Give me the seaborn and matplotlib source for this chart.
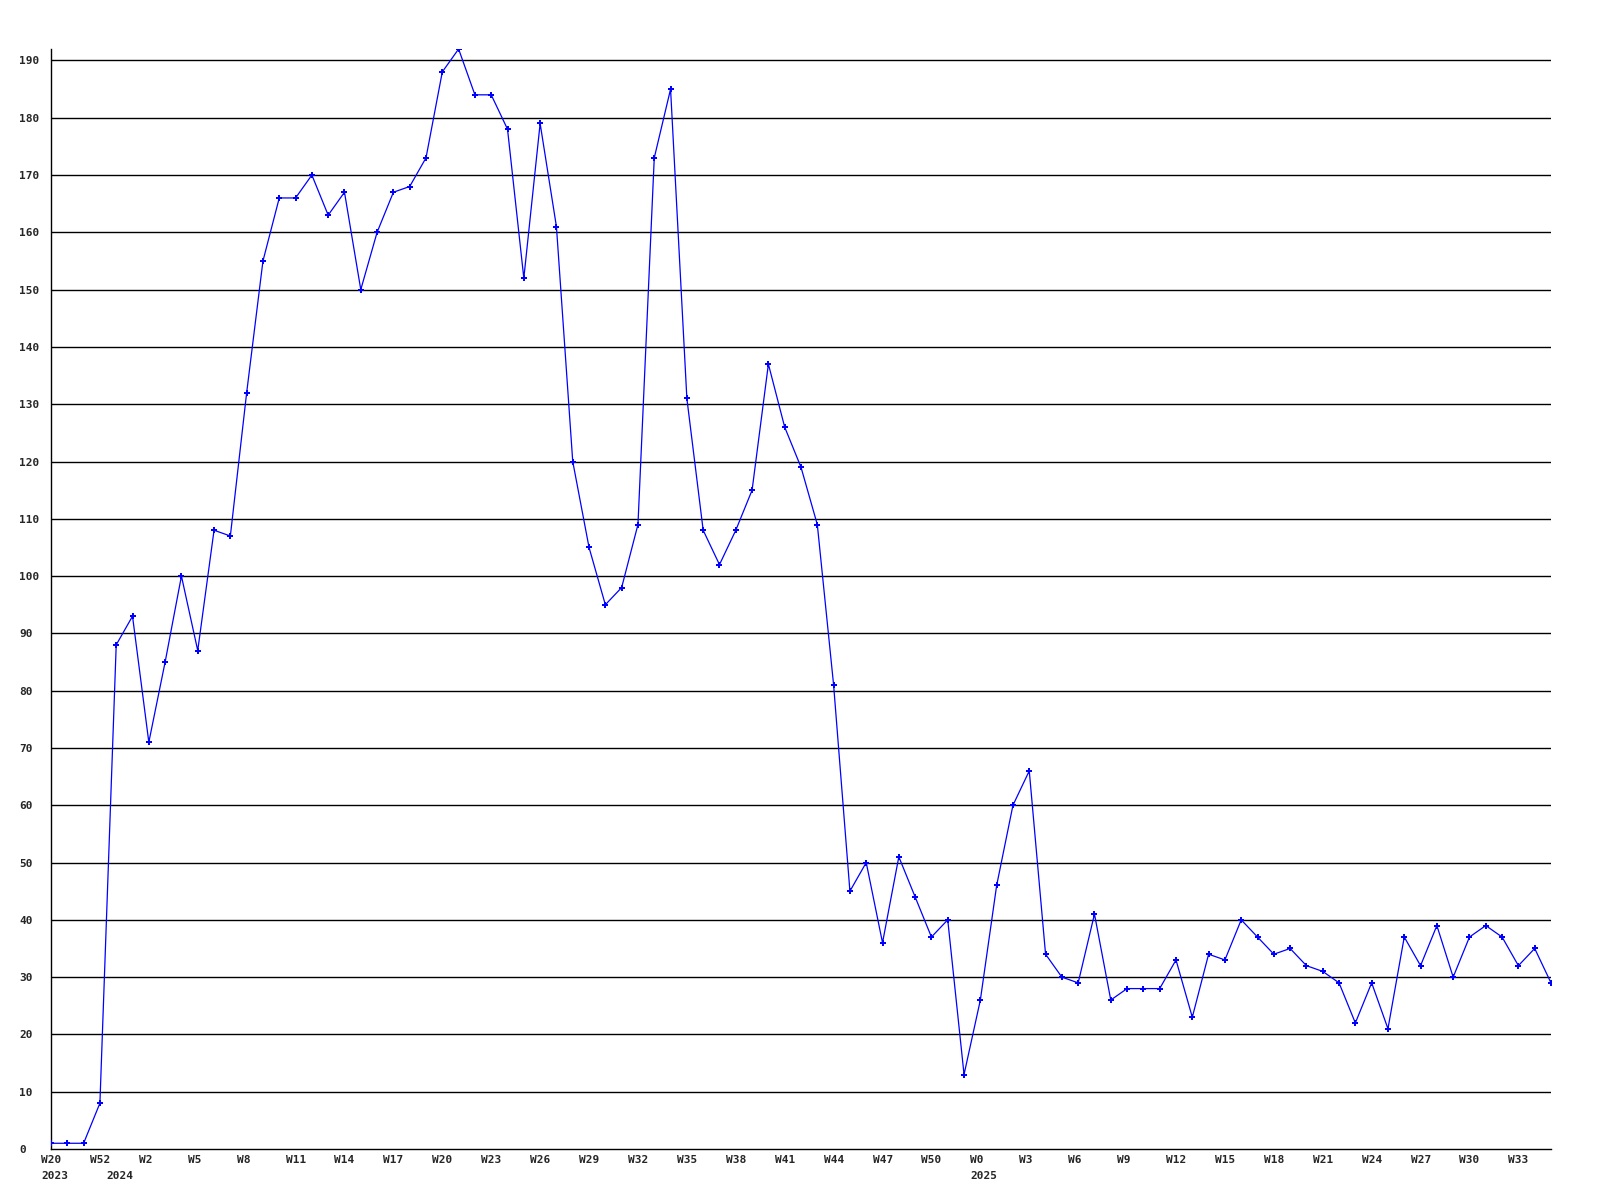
import matplotlib
matplotlib.use("Agg")
import matplotlib.pyplot as plt
import matplotlib.transforms as mtransforms
import numpy as np
import pandas as pd
import seaborn as sns

# ---- data ----
weeks_2023 = ["W20", "W30", "W40", "W52"]
weeks_2024 = ["W%d" % i for i in range(0, 53)]
weeks_2025 = ["W%d" % i for i in range(0, 36)]
years = ["2023", "2024", "2025"]

values_2023 = [1, 1, 1, 8]
values_2024 = [88, 93, 71, 85, 100, 87, 108, 107, 132, 155,
               166, 166, 170, 163, 167, 150, 160, 167, 168, 173,
               188, 192, 184, 184, 178, 152, 179, 161, 120, 105,
               95, 98, 109, 173, 185, 131, 108, 102, 108, 115,
               137, 126, 119, 109, 81, 45, 50, 36, 51, 44,
               37, 40, 13]
values_2025 = [26, 46, 60, 66, 34, 30, 29, 41, 26, 28,
               28, 28, 33, 23, 34, 33, 40, 37, 34, 35,
               32, 31, 29, 22, 29, 21, 37, 32, 39, 30,
               37, 39, 37, 32, 35, 29]

week_labels = weeks_2023 + weeks_2024 + weeks_2025
year_of = ([years[0]] * len(weeks_2023) + [years[1]] * len(weeks_2024)
           + [years[2]] * len(weeks_2025))
values = values_2023 + values_2024 + values_2025

df = pd.DataFrame({"idx": np.arange(len(values)), "value": values,
                   "week": week_labels, "year": year_of})

# ---- plot ----
sns.set_theme(style="white")
plt.rcParams["font.family"] = ["DejaVu Sans Mono", "DejaVu Sans"]
plt.rcParams["font.weight"] = "bold"

fig = plt.figure(figsize=(16, 12), dpi=100)
ax = fig.add_axes([51 / 1600, 1 - 1149 / 1200, 1500 / 1600, 1100 / 1200])

for yv in range(10, 200, 10):
    ax.axhline(yv, color="black", lw=1.0, zorder=1)

sns.lineplot(data=df, x="idx", y="value", ax=ax, color="#0000ff", lw=0.9,
             marker="P", markersize=4.5, markeredgewidth=0,
             markerfacecolor="#0000ff", zorder=3)

n = len(values)
ax.set_xlim(0, n - 1)
ax.set_ylim(0, 192)

# x labels: every 3rd point gets its week; first point of each year gets year
base = ax.get_xaxis_transform()
week_tr = base + mtransforms.ScaledTranslation(-10 / 100, -6 / 100,
                                               fig.dpi_scale_trans)
year_tr = base + mtransforms.ScaledTranslation(-10 / 100, -22 / 100,
                                               fig.dpi_scale_trans)
for i in range(n):
    if i % 3 == 0:
        ax.text(i, 0, week_labels[i], transform=week_tr, ha="left",
                va="top", fontsize=8, fontweight="bold", clip_on=False)
    if i == 0 or year_of[i] != year_of[i - 1]:
        ax.text(i, 0, year_of[i], transform=year_tr, ha="left",
                va="top", fontsize=8, fontweight="bold", clip_on=False)
ax.set_xticks([])

ax.set_yticks(range(0, 200, 10))
ax.set_yticklabels([str(v) for v in range(0, 200, 10)], ha="left",
                   fontsize=8, fontweight="bold")
ax.tick_params(axis="y", length=0, pad=23)

ax.set_xlabel("")
ax.set_ylabel("")
for s in ["top", "right"]:
    ax.spines[s].set_visible(False)
for s in ["left", "bottom"]:
    ax.spines[s].set_color("black")
    ax.spines[s].set_linewidth(1.0)
ax.grid(False)

fig.savefig("out.png", dpi=100, facecolor="white")
